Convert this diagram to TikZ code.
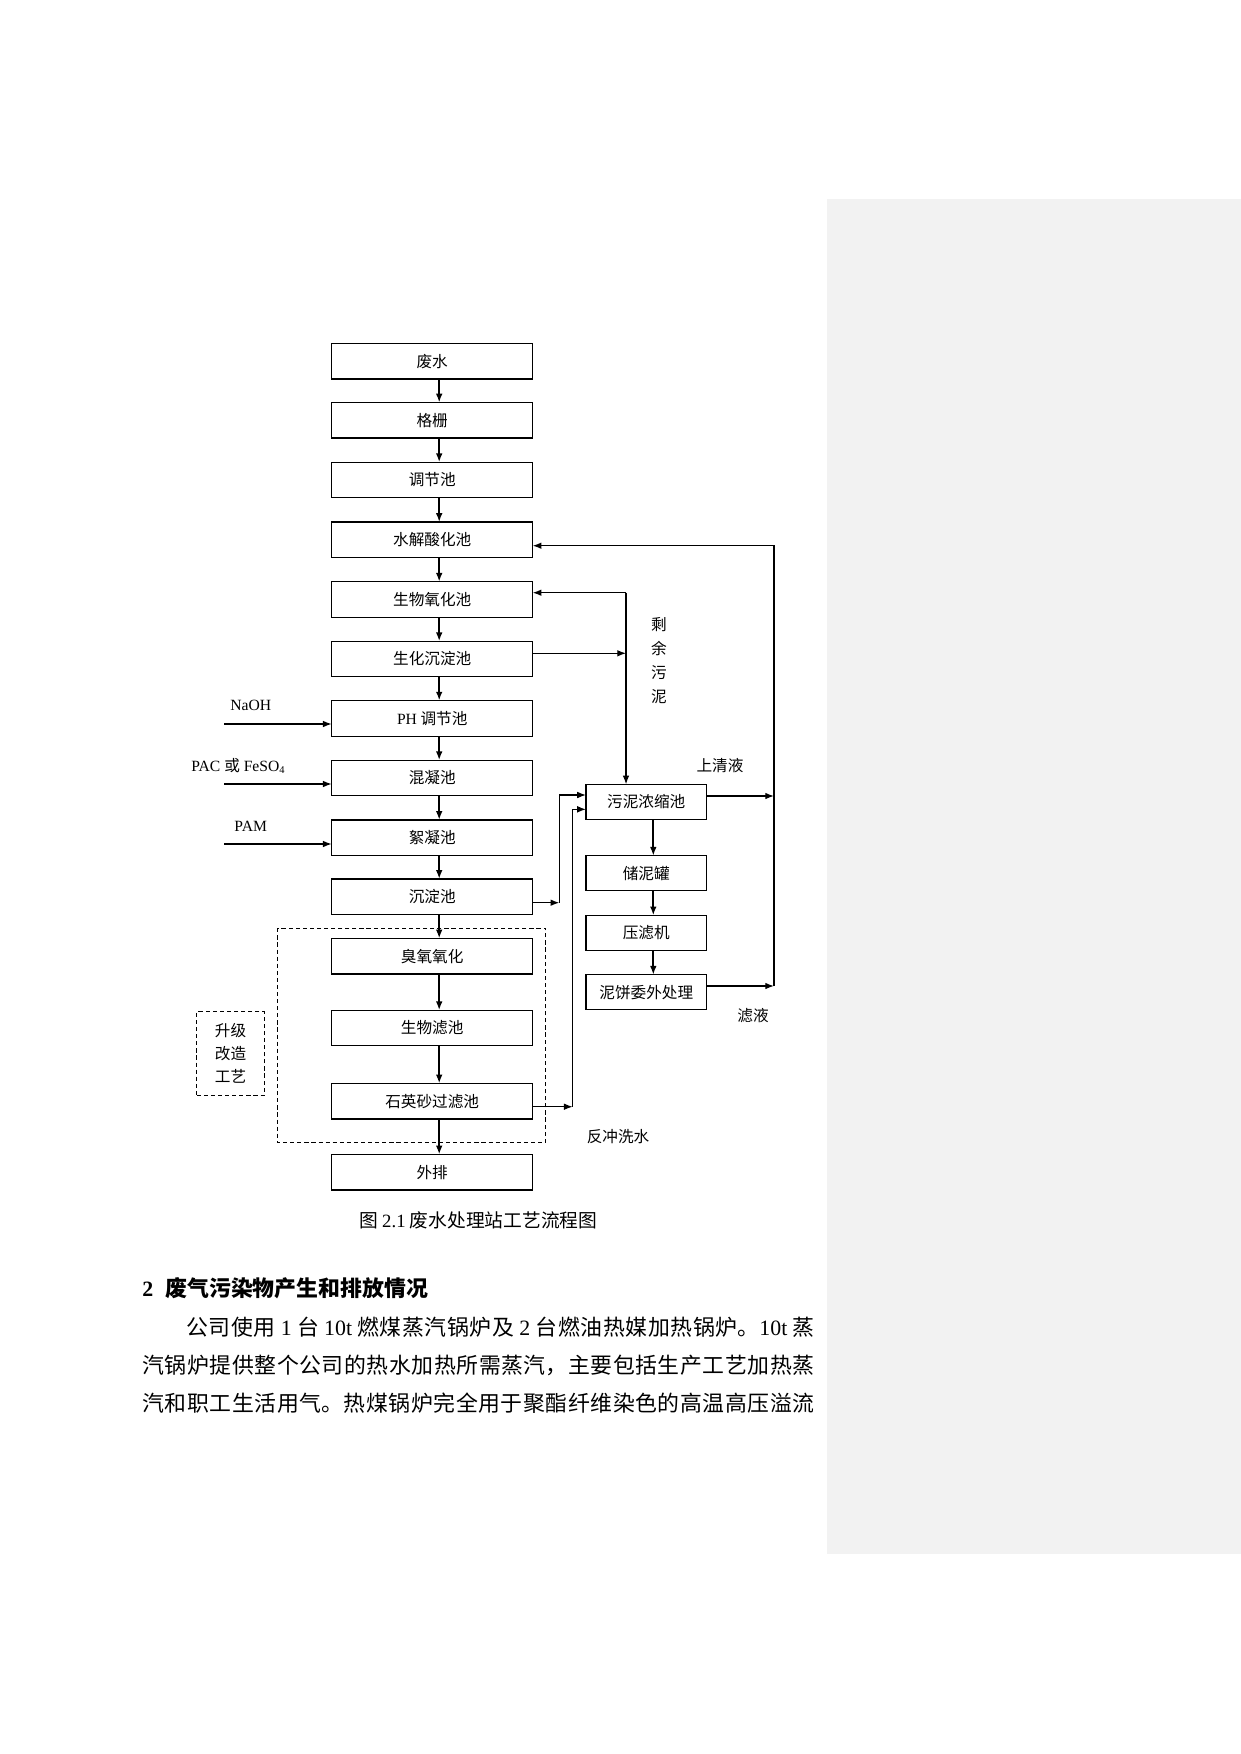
\documentclass[tikz,border=0pt]{standalone}
\usepackage{fontspec}
\setmainfont{Liberation Serif}
\newfontfamily\cjk{Noto Sans CJK SC}
\newfontfamily\la{Liberation Serif}
\usetikzlibrary{arrows.meta}
\definecolor{panelgray}{HTML}{F2F2F2}
\XeTeXlinebreaklocale "zh"
\XeTeXlinebreakskip=0pt plus 2pt
\begin{document}
\begin{tikzpicture}[x=0.48pt,y=-0.48pt,
  box/.style={draw, line width=0.6pt, inner sep=0pt, outer sep=0pt,
    minimum width=96.5pt, minimum height=17.1pt,
    font=\cjk\fontsize{7.5}{9}\selectfont},
  sbox/.style={box, minimum width=57.9pt, minimum height=16.8pt},
  flow/.style={line width=0.9pt, -{Latex[length=4.2pt,width=3.2pt]}},
  link/.style={line width=0.6pt, -{Latex[length=4.2pt,width=3.2pt]}},
  plain/.style={line width=0.6pt},
  lbl/.style={inner sep=0pt, align=center, font=\cjk\fontsize{7.5}{11.5}\selectfont},
  latlbl/.style={inner sep=0pt, font=\la\fontsize{7.5}{9}\selectfont},
  dashbox/.style={draw, line width=0.5pt, dash pattern=on 2pt off 1.4pt},
  bodyline/.style={anchor=base west, inner sep=0pt, text width=322.6pt, align=justify,
    font=\cjk\fontsize{10.5}{18.4}\selectfont}
]
\fill[white] (0,0) rectangle (1241,1754);
\useasboundingbox (0,0) rectangle (1241,1754);
\fill[panelgray] (827,199) rectangle (1241,1554.3);

% main column
\node[box] (w1)  at (432.2,361.2)  {废水};
\node[box] (w2)  at (432.2,420.3)  {格栅};
\node[box] (w3)  at (432.2,480.0)  {调节池};
\node[box] (w4)  at (432.2,539.8)  {水解酸化池};
\node[box] (w5)  at (432.2,599.5)  {生物氧化池};
\node[box] (w6)  at (432.2,659.0)  {生化沉淀池};
\node[box] (w7)  at (432.2,718.3)  {{\la PH} 调节池};
\node[box] (w8)  at (432.2,778.0)  {混凝池};
\node[box] (w9)  at (432.2,837.7)  {絮凝池};
\node[box] (w10) at (432.2,896.7)  {沉淀池};
\node[box] (w11) at (432.2,956.2)  {臭氧氧化};
\node[box] (w12) at (432.2,1028.0) {生物滤池};
\node[box] (w13) at (432.2,1101.2) {石英砂过滤池};
\node[box] (w14) at (432.2,1172.2) {外排};

% sludge column
\node[sbox] (s1) at (646.3,801.8) {污泥浓缩池};
\node[sbox] (s2) at (646.3,873.2) {储泥罐};
\node[sbox] (s3) at (646.3,932.8) {压滤机};
\node[sbox] (s4) at (646.3,992.2) {泥饼委外处理};

\foreach \a/\b in {w1/w2,w2/w3,w3/w4,w4/w5,w5/w6,w6/w7,w7/w8,w8/w9,w9/w10,w10/w11,w11/w12,w12/w13,w13/w14,s1/s2,s2/s3,s3/s4}
  \draw[flow] ([xshift=3.36pt]\a.south) -- ([xshift=3.36pt]\b.north);

% upgrade dashed frame
\draw[dashbox] (277.5,928.3) rectangle (545.7,1142.3);
\node[dashbox, lbl, minimum width=32.4pt, minimum height=40pt, font=\cjk\fontsize{7.5}{11.2}\selectfont]
  (up) at (230.5,1053.4) {升级\\改造\\工艺};

% chemical dosing
\coordinate (naoh) at (224,724);
\coordinate (pac)  at (224,784);
\coordinate (pam)  at (224,844);
\draw[link] (naoh) -- (w7.west |- naoh);
\draw[link] (pac)  -- (w8.west |- pac);
\draw[link] (pam)  -- (w9.west |- pam);
\node[latlbl] (tnaoh) at (250.7,705.7) {NaOH};
\node[latlbl] (tpac)  at (238,766) {PAC {\cjk 或} FeSO\raisebox{-0.35ex}{\fontsize{5}{6}\selectfont 4}};
\node[latlbl] (tpam)  at (250.7,826) {PAM};

% return lines on the right
\coordinate (rtop) at (774,545.7);
\coordinate (rmid) at (774,796);
\coordinate (rbot) at (774,986);
\draw[link] (rbot) -- (rtop) -- (w4.east |- rtop);
\draw[link] (s1.east |- rmid) -- (rmid);
\draw[link] (s4.east |- rbot) -- (rbot);

% surplus sludge
\coordinate (mtop) at (626,592.7);
\coordinate (mmid) at (626,653.3);
\draw[link] (mtop) -- (w5.east |- mtop);
\draw[link] (mtop) -- (s1.north -| mtop);
\draw[link] (w6.east |- mmid) -- (mmid);

% sludge from sedimentation and backwash
\coordinate (c1)  at (559.3,902.7);
\coordinate (c1t) at (559.3,795);
\coordinate (c2)  at (572.7,1106.7);
\coordinate (c2t) at (572.7,809.3);
\draw[link] (w10.east |- c1) -- (c1);
\draw[link] (c1) -- (c1t) -- (s1.west |- c1t);
\draw[link] (w13.east |- c2) -- (c2);
\draw[link] (c2) -- (c2t) -- (s1.west |- c2t);

% labels
\node[lbl] (tsur) at (659,661) {剩\\余\\污\\泥};
\node[lbl] (tsq)  at (720,766) {上清液};
\node[lbl] (tlv)  at (753,1016) {滤液};
\node[lbl] (tfc)  at (618,1137) {反冲洗水};

% caption
\node[inner sep=0pt, font=\cjk\fontsize{9}{11}\selectfont] (cap) at (478.3,1220) {图 {\la 2.1} 废水处理站工艺流程图};

% heading and body
\node[anchor=base west, inner sep=0pt, font=\fontsize{10.5}{13}\selectfont] (head) at (142,1296.4)
  {{\la\bfseries 2}\hspace{5.8pt}{\cjk\bfseries 废气污染物产生和排放情况}};
\node[bodyline] (l1) at (142,1335.1) {\parfillskip=0pt\relax\hspace*{2em}公司使用 {\la 1} 台 {\la 10t} 燃煤蒸汽锅炉及 {\la 2} 台燃油热媒加热锅炉。{\la 10t} 蒸\par};
\node[bodyline] (l2) at (142,1373.4) {\parfillskip=0pt\relax 汽锅炉提供整个公司的热水加热所需蒸汽，主要包括生产工艺加热蒸\par};
\node[bodyline] (l3) at (142,1411.7) {\parfillskip=0pt\relax 汽和职工生活用气。热煤锅炉完全用于聚酯纤维染色的高温高压溢流\par};
\end{tikzpicture}
\end{document}
